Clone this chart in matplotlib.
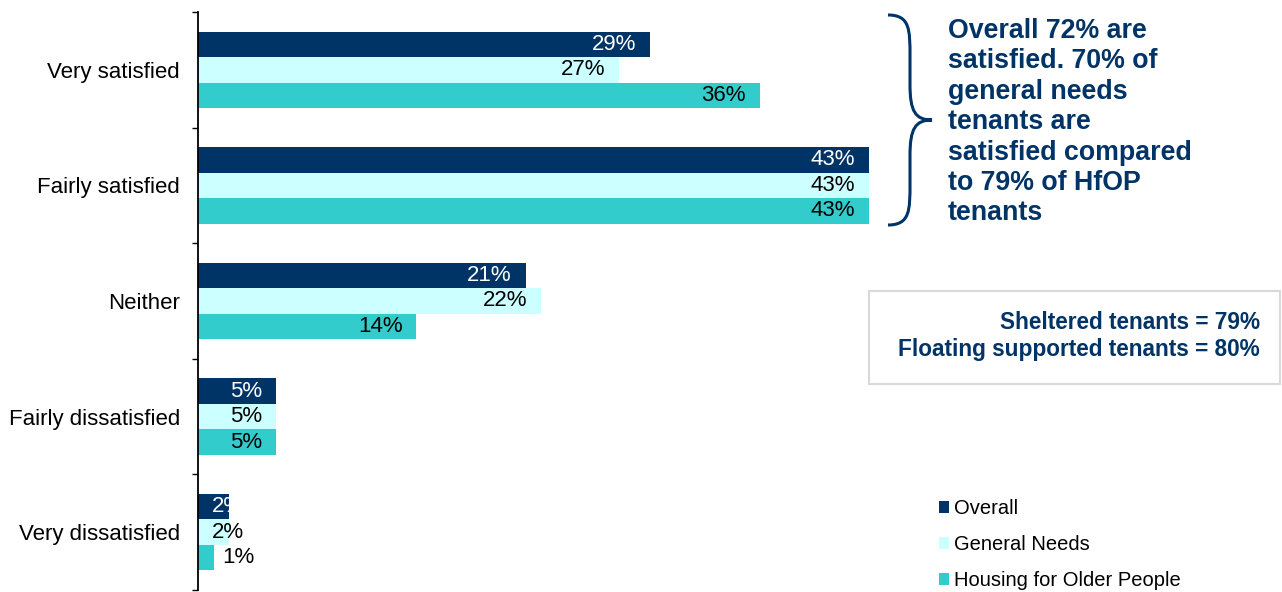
import matplotlib.pyplot as plt
import numpy as np
from matplotlib.patches import Patch, PathPatch, Rectangle
from matplotlib.path import Path

plt.rcParams["font.family"] = ["Liberation Sans", "DejaVu Sans"]

# Satisfaction categories, top to bottom.
categories = [
    "Very satisfied",
    "Fairly satisfied",
    "Neither",
    "Fairly dissatisfied",
    "Very dissatisfied",
]

# Percentages per tenant group.
overall = [29, 43, 21, 5, 2]
general_needs = [27, 43, 22, 5, 2]
older_people = [36, 43, 14, 5, 1]

series_names = ["Overall", "General Needs", "Housing for Older People"]
series_colors = ["#003366", "#CCFFFF", "#33CCCC"]
label_colors = ["white", "black", "black"]

summary_text = (
    "Overall 72% are\nsatisfied. 70% of\ngeneral needs\ntenants are\n"
    "satisfied compared\nto 79% of HfOP\ntenants"
)
box_text = "Sheltered tenants = 79%\nFloating supported tenants = 80%"

NAVY = "#003366"
W, H = 1282, 592


def fx(px):
    return px / W


def fy(py):
    return 1 - py / H


fig = plt.figure(figsize=(W / 100, H / 100), dpi=100)
ax = fig.add_axes([fx(198), fy(590), 50 * 15.6 / W, (590 - 12) / H])

y = np.arange(len(categories))
bar_h = 0.22
offsets = [-bar_h, 0, bar_h]

for values, off, color, lcolor in zip(
    [overall, general_needs, older_people], offsets, series_colors, label_colors
):
    ax.barh(y + off, values, height=bar_h, color=color, edgecolor="none")
    for yi, v in zip(y, values):
        text = f"{v}%"
        if v < 2:
            # too small for the label - put it just past the bar end
            ax.annotate(text, (v, yi + off), xytext=(6, 0), textcoords="offset points",
                        ha="left", va="center", fontsize=16, color="black")
        elif v < 3:
            ax.annotate(text, (0, yi + off), xytext=(10, 0), textcoords="offset points",
                        ha="left", va="center", fontsize=16, color=lcolor)
        else:
            ax.annotate(text, (v, yi + off), xytext=(-10, 0), textcoords="offset points",
                        ha="right", va="center", fontsize=16, color=lcolor)

ax.set_xlim(0, 50)
ax.set_ylim(len(categories) - 0.5, -0.5)
ax.set_yticks(y)
ax.set_yticklabels(categories, fontsize=16)
ax.set_yticks(np.arange(len(categories) + 1) - 0.5, minor=True)
ax.tick_params(axis="y", which="major", length=0, pad=13)
ax.tick_params(axis="y", which="minor", length=4, width=1, direction="out")
ax.set_xticks([])
for side in ["top", "right", "bottom"]:
    ax.spines[side].set_visible(False)
ax.spines["left"].set_linewidth(1.3)

# Curly brace around the two "satisfied" groups.
x0, x1, xm = fx(888), fx(910), fx(932)
yt, yb, ymid = fy(15), fy(225), fy(120)
verts = [
    (x0, yt),
    (x1, yt), (x1, yt - 0.025), (x1, yt - 0.07),
    (x1, ymid + 0.06),
    (x1, ymid + 0.015), (x1 + 0.004, ymid), (xm, ymid),
    (x1 + 0.004, ymid), (x1, ymid - 0.015), (x1, ymid - 0.06),
    (x1, yb + 0.07),
    (x1, yb + 0.025), (x1, yb), (x0, yb),
]
codes = [Path.MOVETO,
         Path.CURVE4, Path.CURVE4, Path.CURVE4,
         Path.LINETO,
         Path.CURVE4, Path.CURVE4, Path.CURVE4,
         Path.CURVE4, Path.CURVE4, Path.CURVE4,
         Path.LINETO,
         Path.CURVE4, Path.CURVE4, Path.CURVE4]
fig.add_artist(PathPatch(Path(verts, codes), transform=fig.transFigure,
                         fill=False, edgecolor=NAVY, linewidth=2.2))

fig.text(fx(948), fy(18), summary_text, ha="left", va="top", fontsize=19.3,
         fontweight="bold", color=NAVY, linespacing=1.22)

# Boxed note with the other tenant groups.
fig.add_artist(Rectangle((fx(869), fy(384)), fx(1280) - fx(869), fy(291) - fy(384),
                         transform=fig.transFigure, fill=False,
                         edgecolor="#D9D9D9", linewidth=1.5))
fig.text(fx(1260), fy(336), box_text, ha="right", va="center", fontsize=16.3,
         fontweight="bold", color=NAVY, multialignment="right", linespacing=1.25)

handles = [Patch(facecolor=c, edgecolor="none") for c in series_colors]
fig.legend(handles, series_names, loc="upper left",
           bbox_to_anchor=(fx(939), fy(499)), frameon=False, fontsize=14.5,
           handlelength=0.5, handleheight=0.5, handletextpad=0.25,
           labelspacing=0.85, borderpad=0, borderaxespad=0)

fig.savefig("out.png", dpi=100)
